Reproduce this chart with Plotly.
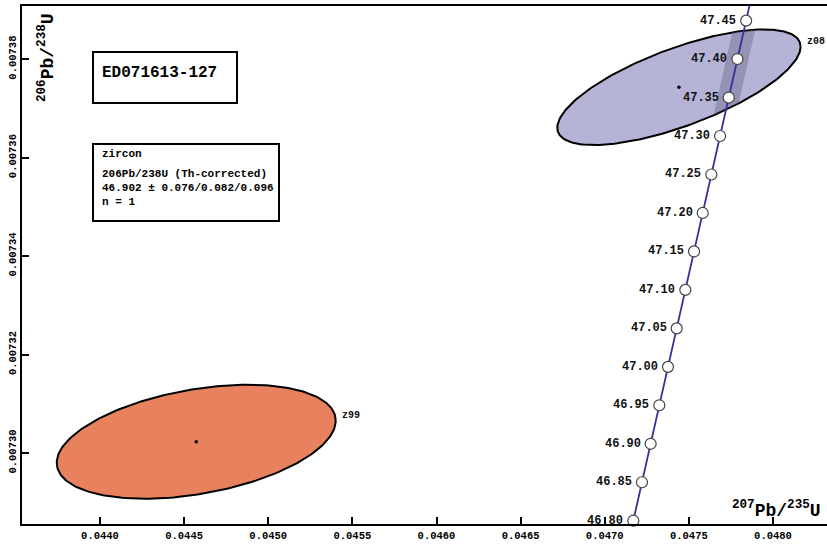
import numpy as np
import plotly.graph_objects as go

# ---------------- data ----------------
L238 = 1.55125e-10
L235 = 9.8485e-10
L235_REL_2S = 0.00136  # relative 2-sigma uncertainty on lambda235

ages_ma = [46.80, 46.85, 46.90, 46.95, 47.00, 47.05, 47.10, 47.15,
           47.20, 47.25, 47.30, 47.35, 47.40, 47.45]

ell_names = ["z99", "z08"]
ell_cx = [0.044572, 0.047441]      # 207Pb/235U
ell_cy = [0.0073023, 0.0073743]    # 206Pb/238U
ell_ax = [8.29e-4, 7.23e-4]        # 2-sigma half extent x
ell_ay = [1.157e-5, 1.174e-5]      # 2-sigma half extent y
ell_rho = [0.37, 0.70]
ell_fill = ["#E8825E", "#B5B4D7"]

x_ticks = [0.0440, 0.0445, 0.0450, 0.0455, 0.0460, 0.0465, 0.0470, 0.0475, 0.0480]
y_ticks = [0.00730, 0.00732, 0.00734, 0.00736, 0.00738]

sample_name = "ED071613-127"
info_lines = ["zircon", "206Pb/238U (Th-corrected)", "46.902 \u00b1 0.076/0.082/0.096", "n = 1"]

X_RANGE = [0.0435364, 0.048321]
Y_RANGE = [0.0072856, 0.0073908]

MONO = "Liberation Mono, Courier New, monospace"

W, H = 827, 545
ML, MR, MT, MB = 22, 0, 6, 21
PW, PH = W - ML - MR, H - MT - MB


def px(xp):
    return (xp - ML) / PW


def py(yp):
    return (H - MB - yp) / PH


def conc(t_ma, l235=L235):
    t = np.asarray(t_ma) * 1e6
    return np.expm1(l235 * t), np.expm1(L238 * t)


def ellipse(cx, cy, ax, ay, rho, n=240):
    th = np.linspace(0, 2 * np.pi, n)
    x = cx + ax * np.cos(th)
    y = cy + ay * (rho * np.cos(th) + np.sqrt(1 - rho ** 2) * np.sin(th))
    return x, y


fig = go.Figure()

# ellipses
for i, name in enumerate(ell_names):
    ex, ey = ellipse(ell_cx[i], ell_cy[i], ell_ax[i], ell_ay[i], ell_rho[i])
    fig.add_trace(go.Scatter(x=ex, y=ey, mode="lines", fill="toself",
                             fillcolor=ell_fill[i], line=dict(color="black", width=2),
                             hoverinfo="skip"))

# decay-constant uncertainty band, visible inside the z08 ellipse
k = 1
v = np.linspace(-1, 1, 600)
yy = ell_cy[k] + v * ell_ay[k]
root = np.sqrt((1 - ell_rho[k] ** 2) * (1 - v ** 2))
e_lo = ell_cx[k] + ell_ax[k] * (ell_rho[k] * v - root)
e_hi = ell_cx[k] + ell_ax[k] * (ell_rho[k] * v + root)
t_of_y = np.log1p(yy) / L238 / 1e6
b_lo, _ = conc(t_of_y, L235 * (1 - L235_REL_2S))
b_hi, _ = conc(t_of_y, L235 * (1 + L235_REL_2S))
lo = np.maximum(e_lo, b_lo)
hi = np.minimum(e_hi, b_hi)
ok = lo <= hi
bx = np.concatenate([lo[ok], hi[ok][::-1]])
by = np.concatenate([yy[ok], yy[ok][::-1]])
fig.add_trace(go.Scatter(x=bx, y=by, mode="lines", fill="toself",
                         fillcolor="rgba(95,92,125,0.38)", line=dict(width=0),
                         hoverinfo="skip"))

# concordia curve
tc = np.linspace(46.7, 47.6, 200)
cx_, cy_ = conc(tc)
fig.add_trace(go.Scatter(x=cx_, y=cy_, mode="lines",
                         line=dict(color="#33339A", width=1.8), hoverinfo="skip"))

# age markers
ax_, ay_ = conc(ages_ma)
fig.add_trace(go.Scatter(x=ax_, y=ay_, mode="markers", cliponaxis=False,
                         marker=dict(size=11, color="white",
                                     line=dict(color="#444444", width=1.2)),
                         hoverinfo="skip"))

# ellipse centres
fig.add_trace(go.Scatter(x=ell_cx, y=ell_cy, mode="markers",
                         marker=dict(size=3.5, color="black"), hoverinfo="skip"))

annotations = []
for a, xa, ya in zip(ages_ma, ax_, ay_):
    annotations.append(dict(x=xa, y=ya, xref="x", yref="y", text=f"{a:.2f}",
                            showarrow=False, xanchor="right", yanchor="middle",
                            xshift=-8, font=dict(family=MONO, size=12, color="#111111", weight="bold")))

for i, name in enumerate(ell_names):
    annotations.append(dict(x=ell_cx[i] + ell_ax[i], y=ell_cy[i] + ell_rho[i] * ell_ay[i],
                            xref="x", yref="y", text=name, showarrow=False,
                            xanchor="left", yanchor="middle", xshift=4, yshift=5,
                            font=dict(family=MONO, size=10, color="#111111", weight="bold")))

# axis titles
annotations.append(dict(
    x=px(776), y=py(509), xref="paper", yref="paper", showarrow=False,
    xanchor="center", yanchor="middle",
    text="<sup>207</sup>Pb/<sup>235</sup>U",
    font=dict(family=MONO, size=18, color="black", weight="bold")))
annotations.append(dict(
    x=px(46), y=py(58), xref="paper", yref="paper", showarrow=False,
    xanchor="center", yanchor="middle", textangle=-90,
    text="<sup>206</sup>Pb/<sup>238</sup>U",
    font=dict(family=MONO, size=18, color="black", weight="bold")))

# sample box
annotations.append(dict(x=px(100), y=py(73), xref="paper", yref="paper", showarrow=False,
                        xanchor="left", yanchor="middle", text=sample_name,
                        font=dict(family=MONO, size=16, color="black", weight="bold")))
line_y = [154, 174, 188, 202]
for txt, yl in zip(info_lines, line_y):
    annotations.append(dict(x=px(100), y=py(yl), xref="paper", yref="paper", showarrow=False,
                            xanchor="left", yanchor="middle", text=txt,
                            font=dict(family=MONO, size=11, color="black", weight="bold")))

shapes = [
    dict(type="rect", xref="paper", yref="paper", x0=px(93), x1=px(237), y0=py(52), y1=py(103),
         line=dict(color="black", width=2), fillcolor="white", layer="above"),
    dict(type="rect", xref="paper", yref="paper", x0=px(93), x1=px(279), y0=py(144), y1=py(221),
         line=dict(color="black", width=2), fillcolor="white", layer="above"),
]

axis_font = dict(family=MONO, size=10.5, color="black", weight="bold")
fig.update_layout(
    width=W, height=H,
    margin=dict(l=ML, r=MR, t=MT, b=MB, pad=0),
    paper_bgcolor="white", plot_bgcolor="white",
    showlegend=False,
    annotations=annotations,
    shapes=shapes,
    xaxis=dict(range=X_RANGE, tickvals=x_ticks, ticktext=[f"{v:.4f}" for v in x_ticks],
               ticks="inside", ticklen=7, tickwidth=2, tickcolor="black",
               showline=True, linewidth=2, linecolor="black", mirror=True,
               showgrid=False, zeroline=False, tickfont=axis_font, automargin=False),
    yaxis=dict(range=Y_RANGE, tickvals=y_ticks, ticktext=[f"{v:.5f}" for v in y_ticks],
               ticks="inside", ticklen=7, tickwidth=2, tickcolor="black",
               showline=True, linewidth=2, linecolor="black", mirror=False,
               showgrid=False, zeroline=False, tickfont=axis_font, tickangle=-90,
               automargin=False),
)

fig.write_html("out.html")
